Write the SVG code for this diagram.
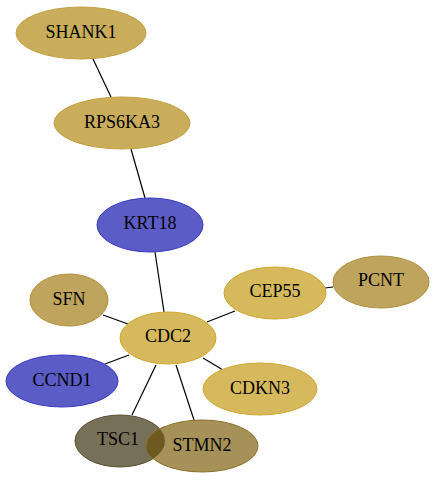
<svg xmlns="http://www.w3.org/2000/svg" width="436" height="480" viewBox="0 0 436 480">
<style>
text{font-family:"Liberation Serif","Times New Roman",serif;font-size:18px;text-anchor:middle;dominant-baseline:central;fill:#000}
.e{stroke:#000;stroke-width:1.2;fill:none}
.g{fill:#c9ad5b;stroke:#c4a040;stroke-width:1}
.y{fill:#d6b95c;stroke:#d0a830;stroke-width:1}
.o{fill:#bea45c;stroke:#b09040;stroke-width:1}
.b{fill:#5c5cc6;stroke:#3838c0;stroke-width:1}
</style>
<defs><clipPath id="ct"><ellipse cx="120" cy="441" rx="45" ry="26"/></clipPath></defs>
<rect width="436" height="480" fill="#fff"/>
<g id="edges">
<line class="e" x1="93" y1="59" x2="111" y2="97"/>
<line class="e" x1="131" y1="149" x2="145" y2="198"/>
<line class="e" x1="155" y1="252" x2="164" y2="312"/>
<line class="e" x1="103" y1="315" x2="128" y2="324"/>
<line class="e" x1="207" y1="322" x2="235" y2="311"/>
<line class="e" x1="325" y1="288" x2="333" y2="287"/>
<line class="e" x1="129" y1="355" x2="105" y2="364"/>
<line class="e" x1="203" y1="358" x2="223" y2="370"/>
<line class="e" x1="156" y1="365" x2="132" y2="415"/>
<line class="e" x1="176" y1="365" x2="194" y2="420"/>
</g>
<g id="SHANK1"><ellipse class="g" cx="81" cy="33" rx="65" ry="26"/><text x="81" y="32">SHANK1</text></g>
<g id="RPS6KA3"><ellipse class="g" cx="122" cy="123" rx="68" ry="26"/><text x="122" y="122">RPS6KA3</text></g>
<g id="KRT18"><ellipse class="b" cx="150" cy="225" rx="53" ry="27"/><text x="150" y="223">KRT18</text></g>
<g id="SFN"><ellipse class="o" cx="69" cy="300" rx="39" ry="26"/><text x="69" y="299">SFN</text></g>
<g id="CEP55"><ellipse class="y" cx="275" cy="293" rx="51" ry="26"/><text x="275" y="291">CEP55</text></g>
<g id="PCNT"><ellipse class="o" cx="381" cy="282" rx="48" ry="26"/><text x="381" y="280">PCNT</text></g>
<g id="CDC2"><ellipse class="y" cx="168" cy="338" rx="48" ry="26"/><text x="168" y="336">CDC2</text></g>
<g id="CCND1"><ellipse class="b" cx="62" cy="381" rx="56" ry="26"/><text x="62" y="380">CCND1</text></g>
<g id="CDKN3"><ellipse class="y" cx="260" cy="389" rx="57" ry="26"/><text x="260" y="388">CDKN3</text></g>
<g id="TSC1"><ellipse cx="120" cy="441" rx="45" ry="26" fill="#777059" stroke="#5a5030" stroke-width="1"/><text x="118" y="439">TSC1</text></g>
<g id="STMN2"><ellipse cx="202" cy="446" rx="56" ry="26" fill="#a69259" stroke="#8a7028" stroke-width="1"/><ellipse cx="202" cy="446" rx="56" ry="26" fill="#6e5a20" clip-path="url(#ct)"/><path d="M146,446 A56,26 0 0 1 165,426.5" fill="none" stroke="#8a7028"/><text x="202" y="445">STMN2</text></g>
</svg>
